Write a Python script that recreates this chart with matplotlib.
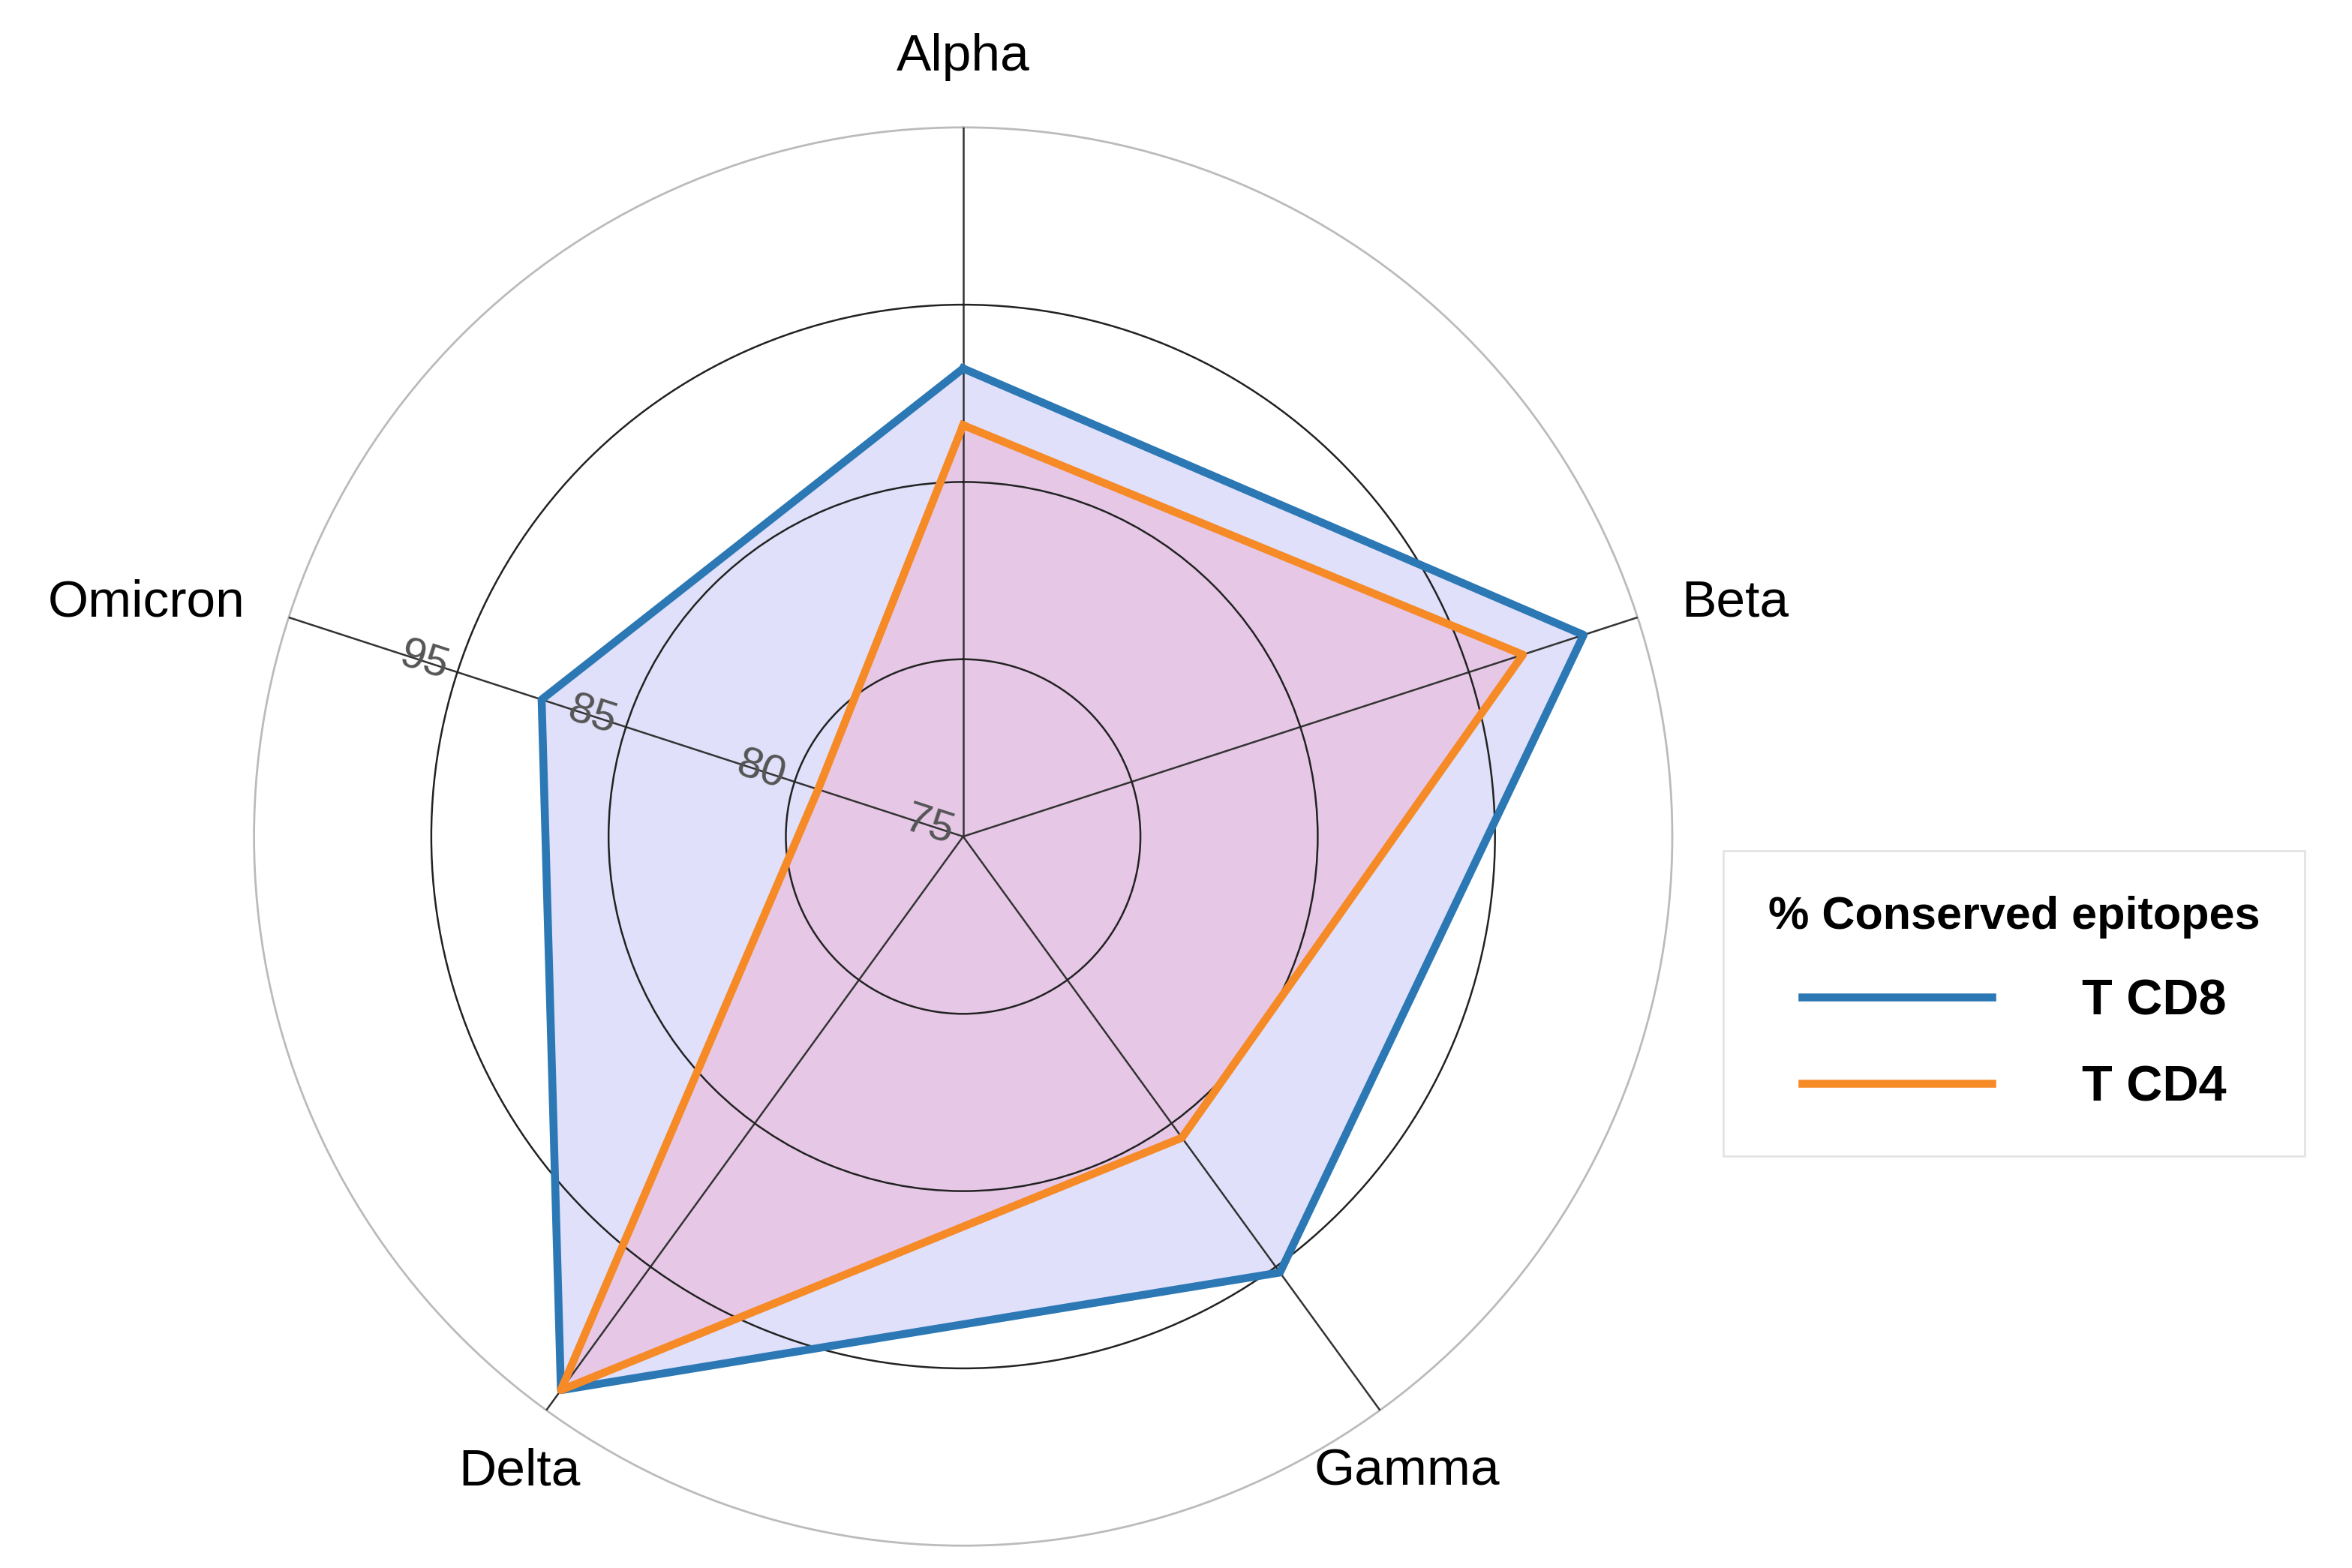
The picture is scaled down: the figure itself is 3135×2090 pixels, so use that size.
import numpy as np
import matplotlib.pyplot as plt
from matplotlib.lines import Line2D

plt.rcParams['font.family'] = ['Liberation Sans', 'DejaVu Sans']

categories = ["Alpha", "Beta", "Gamma", "Delta", "Omicron"]
cd8 = [88.2, 93.4, 90.2, 94.3, 87.5]
cd4 = [86.6, 91.6, 85.5, 94.3, 79.3]
tick_vals = [75, 80, 85, 90]
tick_labels = ["75", "80", "85", "95"]

fig = plt.figure(figsize=(15.675, 10.45), dpi=200)
ax = fig.add_axes([0.108, 0.014, 0.603, 0.905], projection="polar")
ax.set_theta_zero_location("N")
ax.set_theta_direction(-1)
ax.set_ylim(75, 95)
ax.set_axisbelow(False)

n = len(categories)
ang = np.arange(n) * 2 * np.pi / n
a = np.append(ang, ang[0])
v8 = np.append(cd8, cd8[0]); v4 = np.append(cd4, cd4[0])
ax.fill(a, v8, color="#e0e0fa", zorder=1)
ax.fill(a, v4, color="#e6c8e6", zorder=1.2)
ax.plot(a, v8, color="#2b78b4", lw=3.8, zorder=5)
ax.plot(a, v4, color="#f58a27", lw=3.8, zorder=6)

ax.set_xticks(ang); ax.set_xticklabels([])
ax.xaxis.grid(True, color="#333333", lw=0.9)
ax.set_yticks([80, 85, 90]); ax.set_yticklabels([])
ax.yaxis.grid(True, color="#222222", lw=0.9)
ax.spines["polar"].set_color("#bbbbbb"); ax.spines["polar"].set_linewidth(1.0)
for r, t in zip(tick_vals, tick_labels):
    ax.text(ang[4], r + 1.0, t, rotation=-18, ha="center", va="center",
            fontsize=21, color="#555555", zorder=8)

for th, lab in zip(ang, categories):
    deg = np.degrees(th)
    if deg < 1: ha, va = "center", "bottom"
    elif deg < 100: ha, va = "left", "center"
    elif deg < 260: ha, va = "center", "top"
    else: ha, va = "right", "center"
    ax.text(th, 96.3, lab, ha=ha, va=va, fontsize=25, clip_on=False)

handles = [Line2D([], [], color="#2b78b4", lw=3.8), Line2D([], [], color="#f58a27", lw=3.8)]
leg = fig.legend(handles, ["T CD8", "T CD4"], loc="center left",
                 bbox_to_anchor=(0.722, 0.36), title="% Conserved epitopes",
                 prop={"weight": "bold", "size": 24}, title_fontproperties={"weight": "bold", "size": 22},
                 frameon=True, fancybox=False, edgecolor="#dddddd", handlelength=3.8,
                 handletextpad=1.8, labelspacing=0.8, borderpad=0.9)
fig.savefig("out.png", dpi=200)
